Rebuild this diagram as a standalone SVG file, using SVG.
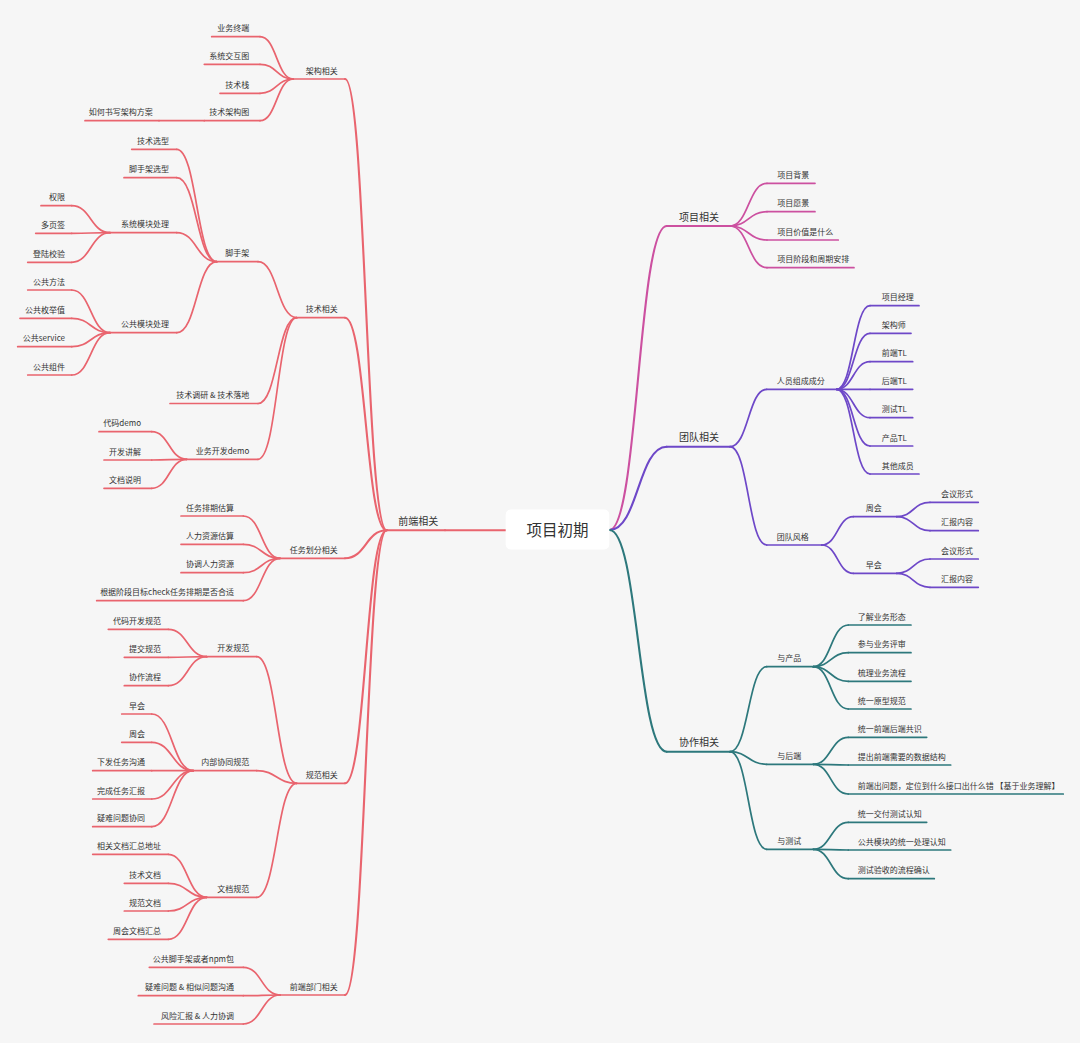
<svg xmlns="http://www.w3.org/2000/svg" width="1080" height="1043" viewBox="0 0 1080 1043">
<style>
.t{font-family:"Noto Sans CJK SC","Noto Sans",sans-serif;font-size:8px;fill:#333}
.t1{font-family:"Noto Sans CJK SC","Noto Sans",sans-serif;font-size:10px;fill:#333}
.rt{font-family:"Noto Sans CJK SC","Noto Sans",sans-serif;font-size:15.5px;fill:#333;text-anchor:middle}
.e{text-anchor:end}
path{fill:none;stroke-width:1.7;stroke-linecap:round}
.r{stroke:#E9646E}
.m{stroke:#CC50A0}
.p{stroke:#6E48C8}
.g{stroke:#2D787C}
.w{stroke-width:2.1}
</style>
<rect width="1080" height="1043" fill="#F6F6F6"/>
<g id="connectors">
<!-- root -->
<path class="r w" d="M505.7 530.3H445"/>
<path class="m w" d="M609.5 530C638.1 530 638.1 226 666.7 226"/>
<path class="p w" d="M609.5 530C638.1 530 638.1 446.7 666.7 446.7"/>
<path class="g w" d="M609.5 530C638.1 530 638.1 751.7 666.7 751.7"/>
<!-- 前端相关 hub -->
<path class="r w" d="M386.7 530.3C365.85 530.3 365.85 79 345 79"/>
<path class="r w" d="M386.7 530.3C365.85 530.3 365.85 317.7 345 317.7"/>
<path class="r w" d="M386.7 530.3C365.85 530.3 365.85 558.3 345 558.3"/>
<path class="r w" d="M386.7 530.3C365.85 530.3 365.85 783.3 345 783.3"/>
<path class="r w" d="M386.7 530.3C365.85 530.3 365.85 995 345 995"/>
<!-- 架构相关 -->
<path class="r" d="M293.3 79C276.65 79 276.65 36.7 260 36.7"/>
<path class="r" d="M293.3 79C276.65 79 276.65 64.3 260 64.3"/>
<path class="r" d="M293.3 79C276.65 79 276.65 93.3 260 93.3"/>
<path class="r" d="M293.3 79C276.65 79 276.65 120.7 260 120.7"/>
<path class="r" d="M204.3 120.7H159"/>
<!-- 技术相关 -->
<path class="r" d="M296.7 317.7C277.35 317.7 277.35 261.7 258 261.7"/>
<path class="r" d="M296.7 317.7C277.35 317.7 277.35 403.5 258 403.5"/>
<path class="r" d="M296.7 317.7C277.35 317.7 277.35 459.3 258 459.3"/>
<!-- 脚手架 -->
<path class="r" d="M216.7 261.7C196.7 261.7 196.7 149.3 176.7 149.3"/>
<path class="r" d="M216.7 261.7C196.7 261.7 196.7 177.7 176.7 177.7"/>
<path class="r" d="M216.7 261.7C196.7 261.7 196.7 232.7 176.7 232.7"/>
<path class="r" d="M216.7 261.7C196.7 261.7 196.7 332.7 176.7 332.7"/>
<!-- 系统模块处理 -->
<path class="r" d="M110 232.7C90.85 232.7 90.85 205.7 71.7 205.7"/>
<path class="r" d="M110 232.7C90.85 232.7 90.85 233.3 71.7 233.3"/>
<path class="r" d="M110 232.7C90.85 232.7 90.85 262.3 71.7 262.3"/>
<!-- 公共模块处理 -->
<path class="r" d="M110 332.7C90.85 332.7 90.85 290 71.7 290"/>
<path class="r" d="M110 332.7C90.85 332.7 90.85 318.3 71.7 318.3"/>
<path class="r" d="M110 332.7C90.85 332.7 90.85 346.7 71.7 346.7"/>
<path class="r" d="M110 332.7C90.85 332.7 90.85 375 71.7 375"/>
<!-- 业务开发demo -->
<path class="r" d="M186.7 459.3C169.2 459.3 169.2 431.7 151.7 431.7"/>
<path class="r" d="M186.7 459.3C169.2 459.3 169.2 460 151.7 460"/>
<path class="r" d="M186.7 459.3C169.2 459.3 169.2 488.3 151.7 488.3"/>
<!-- 任务划分相关 -->
<path class="r" d="M280 558.3C261.65 558.3 261.65 516 243.3 516"/>
<path class="r" d="M280 558.3C261.65 558.3 261.65 544.3 243.3 544.3"/>
<path class="r" d="M280 558.3C261.65 558.3 261.65 572.7 243.3 572.7"/>
<path class="r" d="M280 558.3C261.65 558.3 261.65 600.7 243.3 600.7"/>
<!-- 规范相关 -->
<path class="r" d="M296.7 783.3C276.7 783.3 276.7 656.7 256.7 656.7"/>
<path class="r" d="M296.7 783.3C276.7 783.3 276.7 770.7 256.7 770.7"/>
<path class="r" d="M296.7 783.3C276.7 783.3 276.7 897.3 256.7 897.3"/>
<!-- 开发规范 -->
<path class="r" d="M206.7 656.7C187.5 656.7 187.5 629.3 168.3 629.3"/>
<path class="r" d="M206.7 656.7C187.5 656.7 187.5 657.3 168.3 657.3"/>
<path class="r" d="M206.7 656.7C187.5 656.7 187.5 685.7 168.3 685.7"/>
<!-- 内部协同规范 -->
<path class="r" d="M193.3 770.7C172.5 770.7 172.5 714 151.7 714"/>
<path class="r" d="M193.3 770.7C172.5 770.7 172.5 742.3 151.7 742.3"/>
<path class="r" d="M193.3 770.7C172.5 770.7 172.5 770.7 151.7 770.7"/>
<path class="r" d="M193.3 770.7C172.5 770.7 172.5 799 151.7 799"/>
<path class="r" d="M193.3 770.7C172.5 770.7 172.5 826.7 151.7 826.7"/>
<!-- 文档规范 -->
<path class="r" d="M206.7 897.3C187.5 897.3 187.5 854.3 168.3 854.3"/>
<path class="r" d="M206.7 897.3C187.5 897.3 187.5 883.3 168.3 883.3"/>
<path class="r" d="M206.7 897.3C187.5 897.3 187.5 911 168.3 911"/>
<path class="r" d="M206.7 897.3C187.5 897.3 187.5 939.3 168.3 939.3"/>
<!-- 前端部门相关 -->
<path class="r" d="M280 995C261.65 995 261.65 967.3 243.3 967.3"/>
<path class="r" d="M280 995C261.65 995 261.65 995.7 243.3 995.7"/>
<path class="r" d="M280 995C261.65 995 261.65 1024 243.3 1024"/>
<!-- 项目相关 -->
<path class="m" d="M730 226C748.5 226 748.5 183.3 767 183.3"/>
<path class="m" d="M730 226C748.5 226 748.5 211.7 767 211.7"/>
<path class="m" d="M730 226C748.5 226 748.5 240 767 240"/>
<path class="m" d="M730 226C748.5 226 748.5 267.7 767 267.7"/>
<!-- 团队相关 -->
<path class="p" d="M730 446.7C748.35 446.7 748.35 389.3 766.7 389.3"/>
<path class="p" d="M730 446.7C748.35 446.7 748.35 545 766.7 545"/>
<path class="p" d="M836.7 389.3C853.35 389.3 853.35 305.7 870 305.7"/>
<path class="p" d="M836.7 389.3C853.35 389.3 853.35 333.3 870 333.3"/>
<path class="p" d="M836.7 389.3C853.35 389.3 853.35 361.7 870 361.7"/>
<path class="p" d="M836.7 389.3C853.35 389.3 853.35 389.3 870 389.3"/>
<path class="p" d="M836.7 389.3C853.35 389.3 853.35 417.7 870 417.7"/>
<path class="p" d="M836.7 389.3C853.35 389.3 853.35 446 870 446"/>
<path class="p" d="M836.7 389.3C853.35 389.3 853.35 474 870 474"/>
<path class="p" d="M821.7 545C837.5 545 837.5 516.7 853.3 516.7"/>
<path class="p" d="M821.7 545C837.5 545 837.5 573.3 853.3 573.3"/>
<path class="p" d="M896.7 516.7C913.35 516.7 913.35 502.3 930 502.3"/>
<path class="p" d="M896.7 516.7C913.35 516.7 913.35 530.7 930 530.7"/>
<path class="p" d="M896.7 573.3C913.35 573.3 913.35 559 930 559"/>
<path class="p" d="M896.7 573.3C913.35 573.3 913.35 587.3 930 587.3"/>
<!-- 协作相关 -->
<path class="g" d="M730 751.7C748.35 751.7 748.35 666.7 766.7 666.7"/>
<path class="g" d="M730 751.7C748.35 751.7 748.35 764.3 766.7 764.3"/>
<path class="g" d="M730 751.7C748.35 751.7 748.35 849.3 766.7 849.3"/>
<path class="g" d="M813.3 666.7C830.8 666.7 830.8 625 848.3 625"/>
<path class="g" d="M813.3 666.7C830.8 666.7 830.8 652.7 848.3 652.7"/>
<path class="g" d="M813.3 666.7C830.8 666.7 830.8 681.3 848.3 681.3"/>
<path class="g" d="M813.3 666.7C830.8 666.7 830.8 709 848.3 709"/>
<path class="g" d="M813.3 764.3C830.8 764.3 830.8 737.3 848.3 737.3"/>
<path class="g" d="M813.3 764.3C830.8 764.3 830.8 765 848.3 765"/>
<path class="g" d="M813.3 764.3C830.8 764.3 830.8 794 848.3 794"/>
<path class="g" d="M813.3 849.3C830.8 849.3 830.8 822.3 848.3 822.3"/>
<path class="g" d="M813.3 849.3C830.8 849.3 830.8 850 848.3 850"/>
<path class="g" d="M813.3 849.3C830.8 849.3 830.8 878.7 848.3 878.7"/>
</g>

<g id="root"><rect x="505.7" y="509.5" width="103.6" height="40" rx="5" fill="#FFFFFF"/><text class="rt" x="557.5" y="535.5">项目初期</text></g>

<!-- LEFT -->
<g id="n-qdxg"><path class="r w" d="M386.7 530.3H445"/><text class="t1" x="398.3" y="524.8">前端相关</text></g>

<g id="n-jgxg"><path class="r" d="M293.3 79H345"/><text class="t e" x="337.7" y="73.5">架构相关</text></g>
<g id="n-ywzd"><path class="r" d="M211.7 36.7H260"/><text class="t e" x="249.3" y="31.2">业务终端</text></g>
<g id="n-xtjht"><path class="r" d="M204.3 64.3H260"/><text class="t e" x="249.3" y="58.8">系统交互图</text></g>
<g id="n-jsz"><path class="r" d="M220 93.3H260"/><text class="t e" x="249.3" y="87.8">技术栈</text></g>
<g id="n-jsjgt"><path class="r" d="M204.3 120.7H260"/><text class="t e" x="249.3" y="115.2">技术架构图</text></g>
<g id="n-rhsx"><path class="r" d="M85 120.7H159"/><text class="t e" x="152.7" y="115.2">如何书写架构方案</text></g>

<g id="n-jsxg"><path class="r" d="M296.7 317.7H345"/><text class="t e" x="337.7" y="312.2">技术相关</text></g>
<g id="n-jsj"><path class="r" d="M216.7 261.7H258"/><text class="t e" x="249.3" y="256.2">脚手架</text></g>
<g id="n-jsxx"><path class="r" d="M131.7 149.3H176.7"/><text class="t e" x="169" y="143.8">技术选型</text></g>
<g id="n-jsjxx"><path class="r" d="M124 177.7H176.7"/><text class="t e" x="169" y="172.2">脚手架选型</text></g>
<g id="n-xtmk"><path class="r" d="M110 232.7H176.7"/><text class="t e" x="169" y="227.2">系统模块处理</text></g>
<g id="n-qx"><path class="r" d="M41 205.7H71.7"/><text class="t e" x="65" y="200.2">权限</text></g>
<g id="n-dyq"><path class="r" d="M35.7 233.3H71.7"/><text class="t e" x="65" y="227.8">多页签</text></g>
<g id="n-dljy"><path class="r" d="M27.7 262.3H71.7"/><text class="t e" x="65" y="256.8">登陆校验</text></g>
<g id="n-ggmk"><path class="r" d="M110 332.7H176.7"/><text class="t e" x="169" y="327.2">公共模块处理</text></g>
<g id="n-ggff"><path class="r" d="M27.7 290H71.7"/><text class="t e" x="65" y="284.5">公共方法</text></g>
<g id="n-ggmjz"><path class="r" d="M20 318.3H71.7"/><text class="t e" x="65" y="312.8">公共枚举值</text></g>
<g id="n-ggsvc"><path class="r" d="M17.7 346.7H71.7"/><text class="t e" x="65" y="341.2">公共service</text></g>
<g id="n-ggzj"><path class="r" d="M27.7 375H71.7"/><text class="t e" x="65" y="369.5">公共组件</text></g>
<g id="n-jsdy"><path class="r" d="M170 403.5H258"/><text class="t e" x="249.3" y="398">技术调研 &amp; 技术落地</text></g>
<g id="n-ywkf"><path class="r" d="M186.7 459.3H258"/><text class="t e" x="249.3" y="453.8">业务开发demo</text></g>
<g id="n-dmdemo"><path class="r" d="M99 431.7H151.7"/><text class="t e" x="141" y="426.2">代码demo</text></g>
<g id="n-kfjj"><path class="r" d="M104 460H151.7"/><text class="t e" x="141" y="454.5">开发讲解</text></g>
<g id="n-wdsm"><path class="r" d="M104 488.3H151.7"/><text class="t e" x="141" y="482.8">文档说明</text></g>

<g id="n-rwhf"><path class="r" d="M280 558.3H345"/><text class="t e" x="337.7" y="552.8">任务划分相关</text></g>
<g id="n-rwpq"><path class="r" d="M181 516H243.3"/><text class="t e" x="234" y="510.5">任务排期估算</text></g>
<g id="n-rlzy"><path class="r" d="M181 544.3H243.3"/><text class="t e" x="234" y="538.8">人力资源估算</text></g>
<g id="n-xtrl"><path class="r" d="M181 572.7H243.3"/><text class="t e" x="234" y="567.2">协调人力资源</text></g>
<g id="n-gjjd"><path class="r" d="M96.7 600.7H243.3"/><text class="t e" x="234" y="595.2">根据阶段目标check任务排期是否合适</text></g>

<g id="n-gfxg"><path class="r" d="M296.7 783.3H345"/><text class="t e" x="337.7" y="777.8">规范相关</text></g>
<g id="n-kfgf"><path class="r" d="M206.7 656.7H256.7"/><text class="t e" x="249.3" y="651.2">开发规范</text></g>
<g id="n-dmkfgf"><path class="r" d="M108.3 629.3H168.3"/><text class="t e" x="161" y="623.8">代码开发规范</text></g>
<g id="n-tjgf"><path class="r" d="M124.3 657.3H168.3"/><text class="t e" x="161" y="651.8">提交规范</text></g>
<g id="n-xzlc"><path class="r" d="M124.3 685.7H168.3"/><text class="t e" x="161" y="680.2">协作流程</text></g>
<g id="n-nbxt"><path class="r" d="M193.3 770.7H256.7"/><text class="t e" x="249.3" y="765.2">内部协同规范</text></g>
<g id="n-zh1"><path class="r" d="M121.7 714H151.7"/><text class="t e" x="145" y="708.5">早会</text></g>
<g id="n-zh2"><path class="r" d="M121.7 742.3H151.7"/><text class="t e" x="145" y="736.8">周会</text></g>
<g id="n-xfrw"><path class="r" d="M92.7 770.7H151.7"/><text class="t e" x="145" y="765.2">下发任务沟通</text></g>
<g id="n-wcrw"><path class="r" d="M92.7 799H151.7"/><text class="t e" x="145" y="793.5">完成任务汇报</text></g>
<g id="n-ynwt"><path class="r" d="M92.7 826.7H151.7"/><text class="t e" x="145" y="821.2">疑难问题协同</text></g>
<g id="n-wdgf"><path class="r" d="M206.7 897.3H256.7"/><text class="t e" x="249.3" y="891.8">文档规范</text></g>
<g id="n-xgwd"><path class="r" d="M92.7 854.3H168.3"/><text class="t e" x="161" y="848.8">相关文档汇总地址</text></g>
<g id="n-jswd"><path class="r" d="M124.3 883.3H168.3"/><text class="t e" x="161" y="877.8">技术文档</text></g>
<g id="n-gfwd"><path class="r" d="M124.3 911H168.3"/><text class="t e" x="161" y="905.5">规范文档</text></g>
<g id="n-zhwd"><path class="r" d="M108.3 939.3H168.3"/><text class="t e" x="161" y="933.8">周会文档汇总</text></g>

<g id="n-qdbm"><path class="r" d="M280 995H345"/><text class="t e" x="337.7" y="989.5">前端部门相关</text></g>
<g id="n-ggjsj"><path class="r" d="M149.3 967.3H243.3"/><text class="t e" x="234" y="961.8">公共脚手架或者npm包</text></g>
<g id="n-ynwtgt"><path class="r" d="M138.3 995.7H243.3"/><text class="t e" x="234" y="990.2">疑难问题 &amp; 相似问题沟通</text></g>
<g id="n-fxhb"><path class="r" d="M154 1024H243.3"/><text class="t e" x="234" y="1018.5">风险汇报 &amp; 人力协调</text></g>

<!-- RIGHT -->
<g id="n-xmxg"><path class="m w" d="M666.7 226H730"/><text class="t1" x="679" y="220.5">项目相关</text></g>
<g id="n-xmbj"><path class="m" d="M767 183.3H815"/><text class="t" x="777.3" y="177.8">项目背景</text></g>
<g id="n-xmyj"><path class="m" d="M767 211.7H815"/><text class="t" x="777.3" y="206.2">项目愿景</text></g>
<g id="n-xmjz"><path class="m" d="M767 240H838.3"/><text class="t" x="777.3" y="234.5">项目价值是什么</text></g>
<g id="n-xmjd"><path class="m" d="M767 267.7H854"/><text class="t" x="777.3" y="262.2">项目阶段和周期安排</text></g>

<g id="n-tdxg"><path class="p w" d="M666.7 446.7H730"/><text class="t1" x="679" y="441.2">团队相关</text></g>
<g id="n-ryzc"><path class="p" d="M766.7 389.3H836.7"/><text class="t" x="776.7" y="383.8">人员组成成分</text></g>
<g id="n-xmjl"><path class="p" d="M870 305.7H919"/><text class="t" x="881.7" y="300.2">项目经理</text></g>
<g id="n-jgs"><path class="p" d="M870 333.3H911"/><text class="t" x="881.7" y="327.8">架构师</text></g>
<g id="n-qdtl"><path class="p" d="M870 361.7H912.7"/><text class="t" x="881.7" y="356.2">前端TL</text></g>
<g id="n-hdtl"><path class="p" d="M870 389.3H912.7"/><text class="t" x="881.7" y="383.8">后端TL</text></g>
<g id="n-cstl"><path class="p" d="M870 417.7H912.7"/><text class="t" x="881.7" y="412.2">测试TL</text></g>
<g id="n-cptl"><path class="p" d="M870 446H912.7"/><text class="t" x="881.7" y="440.5">产品TL</text></g>
<g id="n-qtcy"><path class="p" d="M870 474H919"/><text class="t" x="881.7" y="468.5">其他成员</text></g>
<g id="n-tdfg"><path class="p" d="M766.7 545H821.7"/><text class="t" x="776.7" y="539.5">团队风格</text></g>
<g id="n-zhou"><path class="p" d="M853.3 516.7H896.7"/><text class="t" x="865.7" y="511.2">周会</text></g>
<g id="n-zao"><path class="p" d="M853.3 573.3H896.7"/><text class="t" x="865.7" y="567.8">早会</text></g>
<g id="n-hyxs1"><path class="p" d="M930 502.3H978.3"/><text class="t" x="941" y="496.8">会议形式</text></g>
<g id="n-hbnr1"><path class="p" d="M930 530.7H978.3"/><text class="t" x="941" y="525.2">汇报内容</text></g>
<g id="n-hyxs2"><path class="p" d="M930 559H978.3"/><text class="t" x="941" y="553.5">会议形式</text></g>
<g id="n-hbnr2"><path class="p" d="M930 587.3H978.3"/><text class="t" x="941" y="581.8">汇报内容</text></g>

<g id="n-xzxg"><path class="g w" d="M666.7 751.7H730"/><text class="t1" x="679" y="746.2">协作相关</text></g>
<g id="n-ycp"><path class="g" d="M766.7 666.7H813.3"/><text class="t" x="777.3" y="661.2">与产品</text></g>
<g id="n-yhd"><path class="g" d="M766.7 764.3H813.3"/><text class="t" x="777.3" y="758.8">与后端</text></g>
<g id="n-ycs"><path class="g" d="M766.7 849.3H813.3"/><text class="t" x="777.3" y="843.8">与测试</text></g>
<g id="n-ljyw"><path class="g" d="M848.3 625H911"/><text class="t" x="857.7" y="619.5">了解业务形态</text></g>
<g id="n-cyyw"><path class="g" d="M848.3 652.7H911"/><text class="t" x="857.7" y="647.2">参与业务评审</text></g>
<g id="n-slyw"><path class="g" d="M848.3 681.3H911"/><text class="t" x="857.7" y="675.8">梳理业务流程</text></g>
<g id="n-tyyx"><path class="g" d="M848.3 709H911"/><text class="t" x="857.7" y="703.5">统一原型规范</text></g>
<g id="n-tyqd"><path class="g" d="M848.3 737.3H926.7"/><text class="t" x="857.7" y="731.8">统一前端后端共识</text></g>
<g id="n-tcqd"><path class="g" d="M848.3 765H950.7"/><text class="t" x="857.7" y="759.5">提出前端需要的数据结构</text></g>
<g id="n-qdcwt"><path class="g" d="M848.3 794H1063.3"/><text class="t" x="857.7" y="788.5">前端出问题，定位到什么接口出什么错 【基于业务理解】</text></g>
<g id="n-tyjf"><path class="g" d="M848.3 822.3H926.7"/><text class="t" x="857.7" y="816.8">统一交付测试认知</text></g>
<g id="n-ggmkty"><path class="g" d="M848.3 850H950.7"/><text class="t" x="857.7" y="844.5">公共模块的统一处理认知</text></g>
<g id="n-csys"><path class="g" d="M848.3 878.7H934.3"/><text class="t" x="857.7" y="873.2">测试验收的流程确认</text></g>
</svg>
